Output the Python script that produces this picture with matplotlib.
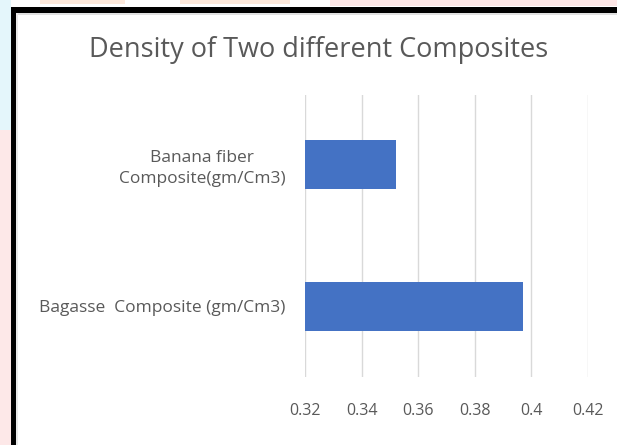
import matplotlib
matplotlib.use("Agg")
import matplotlib.pyplot as plt
from matplotlib.patches import Rectangle

categories = ["Bagasse  Composite (gm/Cm3)", "Banana fiber\nComposite(gm/Cm3)"]
values = [0.397, 0.352]
xticks = [0.32, 0.34, 0.36, 0.38, 0.40, 0.42]
xticklabels = ["0.32", "0.34", "0.36", "0.38", "0.4", "0.42"]
title = "Density of Two different Composites"

plt.rcParams['font.family'] = ['Open Sans', 'DejaVu Sans']
W, H = 617, 445
fig = plt.figure(figsize=(W / 100, H / 100), dpi=100)
fig.patch.set_facecolor("white")

def px_rect(x0, y0, x1, y1, color, z=0):
    fig.add_artist(Rectangle((x0 / W, 1 - y1 / H), (x1 - x0) / W, (y1 - y0) / H,
                             transform=fig.transFigure, color=color, lw=0, zorder=z))

# background decorations outside the frame
px_rect(0, 0, 11, H, "#fde8e8")
px_rect(0, 0, 11, 130, "#e4f6fb")
px_rect(40, 0, 125, 4, "#fde9dc")
px_rect(180, 0, 290, 4, "#fde9dc")
px_rect(330, 0, 617, 6, "#fde6e6")
# black frame
px_rect(11, 7, 16, H, "black", 5)
px_rect(11, 7, W, 13, "black", 5)
px_rect(16, 13, W, 15, "#e0e0e0", 4)
px_rect(16, 13, 18, H, "#e8e8e8", 4)

ax = fig.add_axes([305 / W, 1 - 377 / H, (588 - 305) / W, 282 / H])
ypos = [0, 1]
ax.barh(ypos, [v - xticks[0] for v in values], left=xticks[0], height=0.345, color="#4472c4", zorder=3)
ax.set_xlim(0.32, 0.42)
ax.set_ylim(-0.5, 1.49)
ax.set_xticks(xticks)
ax.set_xticklabels(xticklabels, fontsize=11.5, color="#595959")
ax.set_yticks(ypos)
ax.set_yticklabels(categories, fontsize=12.5, color="#595959", multialignment="center", linespacing=1.4)
ax.tick_params(axis="x", length=0, pad=19)
ax.tick_params(axis="y", length=0, pad=14)
ax.grid(axis="x", color="#d9d9d9", lw=1, zorder=0)
for s in ax.spines.values():
    s.set_visible(False)
ax.set_facecolor("none")

fig.text(319 / W, 1 - 50 / H, title, ha="center", va="center", fontsize=19.5, color="#595959")

fig.savefig("out.png", dpi=100)
